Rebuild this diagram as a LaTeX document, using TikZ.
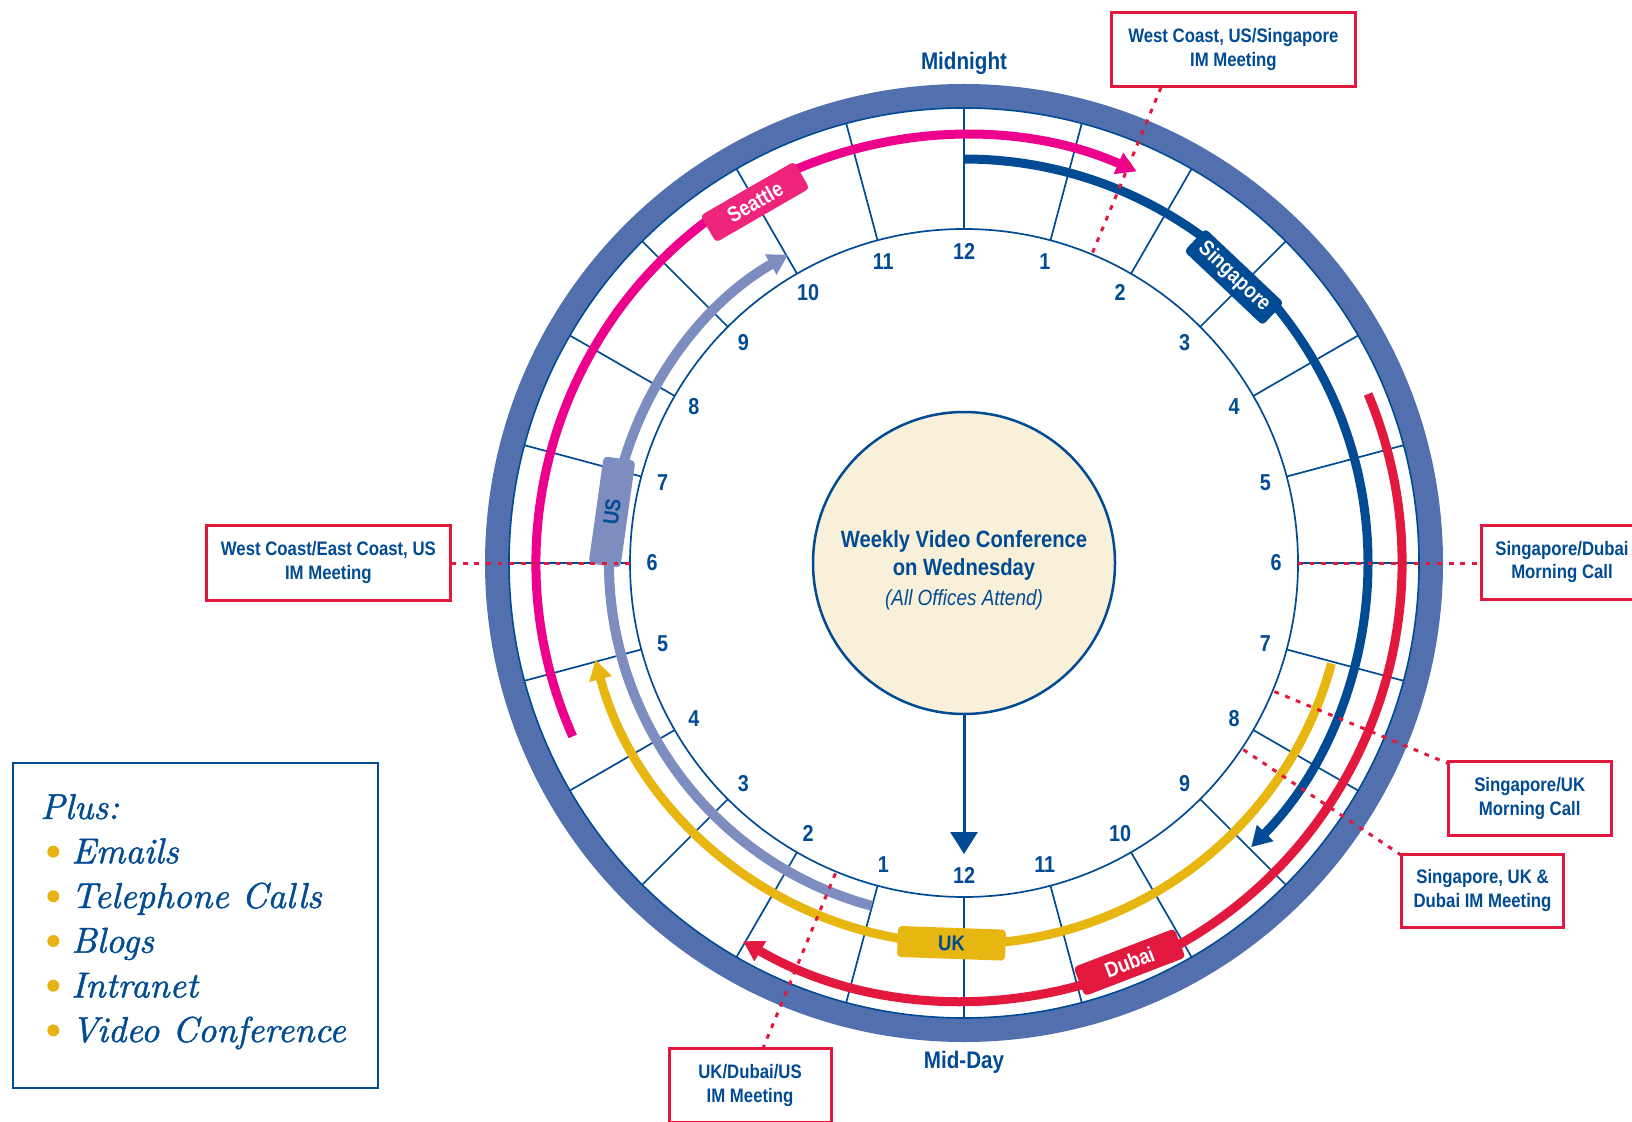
\documentclass[tikz,border=0pt]{standalone}
\usepackage{fontspec}
\newfontfamily\cf{Liberation Sans}[FakeStretch=0.86]
\newfontfamily\pf{lmroman10-italic}[Extension=.otf, FakeBold=1.2]
\usetikzlibrary{arrows.meta,calc}
\definecolor{navy}{RGB}{0,75,147}
\definecolor{bandc}{RGB}{82,112,174}
\definecolor{magc}{RGB}{236,0,140}
\definecolor{seapink}{RGB}{238,37,122}
\definecolor{redc}{RGB}{227,24,62}
\definecolor{yelc}{RGB}{232,182,16}
\definecolor{lavc}{RGB}{125,141,192}
\definecolor{creamc}{RGB}{248,240,217}
\definecolor{bulc}{RGB}{232,178,20}
\begin{document}
\begin{tikzpicture}[x=0.5pt,y=0.5pt,
  hourlab/.style={font=\cf\bfseries\fontsize{11.5}{13}\selectfont, text=navy, inner sep=0pt},
  callout/.style={draw=redc, line width=1.5pt, fill=white, align=center, inner sep=0pt,
    font=\cf\bfseries\fontsize{9.75}{11.85}\selectfont, text=navy},
  tag/.style={rounded corners=2pt, inner sep=0pt, minimum width=54pt, minimum height=15.5pt,
    font=\cf\bfseries\fontsize{10.75}{12}\selectfont},
  dotline/.style={draw=redc, line width=1.5pt, dash pattern=on 2.4pt off 3.4pt},
  track/.style={line width=4.5pt},
  tip/.style={-{Triangle[length=10pt,width=11pt]}},
  plusitem/.style={anchor=base west, text=navy, inner sep=0pt, font=\pf\fontsize{18}{20}\selectfont},
]
\path[use as bounding box] (0,0) rectangle (1632,1121);
\clip (0,0) rectangle (1632,1121);
\coordinate (C) at (964,558);

% outer band and circles
\draw[bandc, line width=12pt] (C) circle[radius=467];
\draw[navy, line width=0.8pt] (C) circle[radius=455];
\draw[navy, line width=0.85pt] (C) circle[radius=334];
\foreach \k in {0,...,23} {
  \pgfmathsetmacro\ang{90-15*\k}
  \pgfmathtruncatemacro\hr{mod(\k+11,12)+1}
  \draw[navy, line width=0.85pt] ($(C)+(\ang:334)$) -- ($(C)+(\ang:455)$);
  \node[hourlab] (h\k) at ($(C)+(\ang:312)$) {\hr};
}

% tracks
\draw[magc, track, tip] ($(C)+(203.9:428)$) arc[start angle=203.9, end angle=66.2, radius=428];
\draw[navy, track, tip] ($(C)+(90:404)$) arc[start angle=90, end angle=-44.7, radius=404];
\draw[redc, track, tip] ($(C)+(22.7:438)$) arc[start angle=22.7, end angle=-120.3, radius=438];
\draw[yelc, track, tip] ($(C)+(-15.3:381)$) arc[start angle=-15.3, end angle=-165.3, radius=381];
\draw[lavc, line width=5pt, tip] ($(C)+(254.9:355)$) arc[start angle=254.9, end angle=119.7, radius=355];

% tags
\node[tag, fill=seapink, text=white, rotate=30] (seattle) at (755,919) {Seattle};
\node[tag, fill=navy, text=white, rotate=-43.4] (singapore) at (1234,844) {Singapore};
\node[tag, fill=redc, text=white, rotate=21] (dubai) at (1129.5,158.7) {Dubai};
\node[tag, fill=yelc, text=navy, rotate=-2] (uk) at (951.5,177.7) {UK};
\node[tag, fill=lavc, text=navy, rotate=82, minimum height=16pt] (us) at (612,609) {US};

% centre
\node[circle, draw=navy, line width=1.25pt, fill=creamc, minimum size=151pt, inner sep=0pt] (conf) at (C) {};
\node[align=center, text=navy, inner sep=0pt, font=\cf\bfseries\fontsize{11.75}{14.15}\selectfont] (conftext) at (964,550.4)
  {Weekly Video Conference\\on Wednesday\\[0.85pt]{\mdseries\itshape\fontsize{11}{13}\selectfont (All Offices Attend)}};
\coordinate (arrtip) at (964,267);
\draw[navy, line width=1.5pt, -{Triangle[length=11pt,width=13.5pt]}] (conf.south) -- (arrtip);

\node[text=navy, font=\cf\bfseries\fontsize{12}{14}\selectfont] (midnight) at (964,1057.5) {Midnight};
\node[text=navy, font=\cf\bfseries\fontsize{12}{14}\selectfont] (midday) at (964,58.3) {Mid-Day};

% callouts
\node[callout, minimum width=121.75pt, minimum height=36.75pt] (c1) at (1233.4,1071.7) {West Coast, US/Singapore\\IM Meeting};
\node[callout, minimum width=81pt, minimum height=37pt] (c2) at (1562,559) {Singapore/Dubai\\Morning Call};
\node[callout, minimum width=122.35pt, minimum height=37.35pt] (c3) at (328.4,558.3) {West Coast/East Coast, US\\IM Meeting};
\node[callout, minimum width=81.35pt, minimum height=36.65pt] (c4) at (1529.7,322.6) {Singapore/UK\\Morning Call};
\node[callout, minimum width=80.8pt, minimum height=36.65pt] (c5) at (1482.5,230.3) {Singapore, UK \&\\Dubai IM Meeting};
\node[callout, minimum width=81pt, minimum height=36.75pt] (c6) at (750,35.7) {UK/Dubai/US\\IM Meeting};

% dotted connectors
\coordinate (d1) at ($(C)+(67.5:336)$);
\coordinate (e1) at ($(C)+(67.5:516)$);
\coordinate (d2) at ($(C)+(0:334)$);
\coordinate (d3) at ($(C)+(180:334)$);
\coordinate (d4) at ($(C)+(-22.5:336)$);
\coordinate (e4) at ($(C)+(-22.5:524)$);
\coordinate (d5) at ($(C)+(-33.75:336)$);
\coordinate (e5) at ($(C)+(-33.75:525)$);
\coordinate (d6) at ($(C)+(-112.5:336)$);
\coordinate (e6) at ($(C)+(-112.5:527)$);
\draw[dotline] (d1) -- (e1);
\draw[dotline] (d2) -- (d2 -| c2.west);
\draw[dotline] (d3) -- (d3 -| c3.east);
\draw[dotline] (d4) -- (e4);
\draw[dotline] (d5) -- (e5);
\draw[dotline] (d6) -- (e6);

% plus box
\node[draw=navy, line width=1.1pt, minimum width=182.8pt, minimum height=162.8pt, inner sep=0pt] (plusbox) at (195.5,195.5) {};
\node[plusitem] (plus) at (40,302) {Plus:};
\node[plusitem] (i1) at (71,257.7) {Emails};
\node[plusitem] (i2) at (71,213) {Telephone Calls};
\node[plusitem] (i3) at (71,168.3) {Blogs};
\node[plusitem] (i4) at (71,123.6) {Intranet};
\node[plusitem] (i5) at (71,79) {Video Conference};
\foreach \yy in {269.3,224.7,180,135.3,90.6} \fill[bulc] (53.3,\yy) circle[radius=6];
\end{tikzpicture}
\end{document}
